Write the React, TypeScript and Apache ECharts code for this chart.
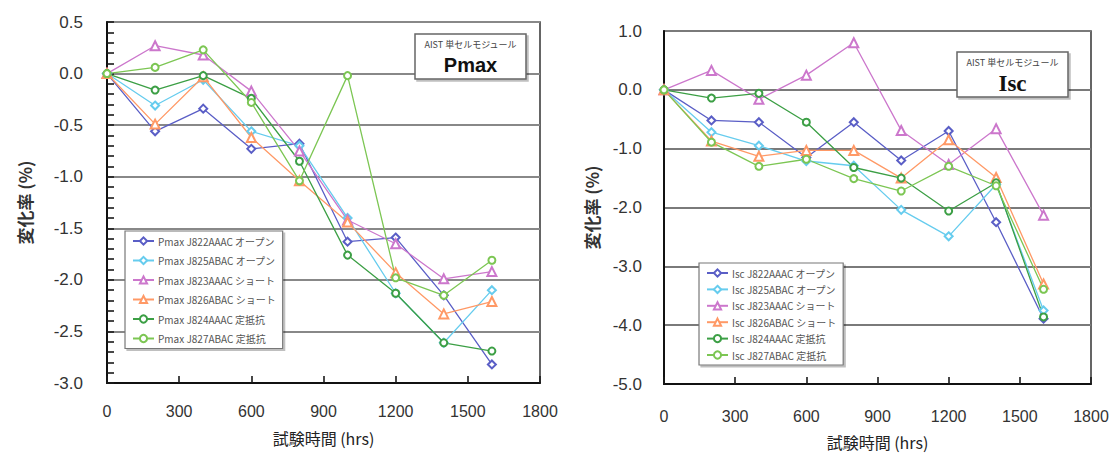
import React, { useEffect, useRef } from "react";
import * as echarts from "echarts";

// Test hours shared by both panels
const hours = [0, 200, 400, 600, 800, 1000, 1200, 1400, 1600];

// Module identifiers and their condition labels
const modules = [
  "J822AAAC オープン",
  "J825ABAC オープン",
  "J823AAAC ショート",
  "J826ABAC ショート",
  "J824AAAC 定抵抗",
  "J827ABAC 定抵抗",
];

// Pmax change rate (%)
const pmaxJ822 = [0, -0.56, -0.34, -0.73, -0.68, -1.63, -1.59, -2.15, -2.82];
const pmaxJ825 = [0, -0.31, -0.06, -0.56, -0.7, -1.4, -2.13, -2.61, -2.1];
const pmaxJ823 = [0, 0.27, 0.18, -0.17, -0.75, -1.42, -1.65, -1.99, -1.92];
const pmaxJ826 = [0, -0.49, -0.03, -0.62, -1.04, -1.44, -1.93, -2.33, -2.21];
const pmaxJ824 = [0, -0.16, -0.02, -0.24, -0.85, -1.76, -2.13, -2.61, -2.69];
const pmaxJ827 = [0, 0.06, 0.23, -0.28, -1.04, -0.02, -1.98, -2.15, -1.81];

// Isc change rate (%)
const iscJ822 = [0, -0.52, -0.55, -1.15, -0.55, -1.2, -0.7, -2.25, -3.89];
const iscJ825 = [0, -0.72, -0.95, -1.21, -1.29, -2.04, -2.49, -1.61, -3.75];
const iscJ823 = [0, 0.33, -0.16, 0.25, 0.8, -0.69, -1.27, -0.66, -2.13];
const iscJ826 = [0, -0.87, -1.13, -1.03, -1.03, -1.5, -0.85, -1.49, -3.3];
const iscJ824 = [0, -0.14, -0.06, -0.55, -1.32, -1.5, -2.06, -1.58, -3.86];
const iscJ827 = [0, -0.89, -1.3, -1.18, -1.51, -1.72, -1.3, -1.63, -3.39];

const pmaxValues = [pmaxJ822, pmaxJ825, pmaxJ823, pmaxJ826, pmaxJ824, pmaxJ827];
const iscValues = [iscJ822, iscJ825, iscJ823, iscJ826, iscJ824, iscJ827];

const colors = ["#5a5ec6", "#66ccee", "#cc77cc", "#ff9966", "#3c9f45", "#7cc653"];
const symbols = [
  "emptyDiamond",
  "emptyDiamond",
  "emptyTriangle",
  "emptyTriangle",
  "emptyCircle",
  "emptyCircle",
];
const symbolSizes = [8, 8, 9, 9, 7, 7];

const xTicks = { min: 0, max: 1800, interval: 300 };

const sansFont = "'Liberation Sans', Arial, sans-serif";
const cjkFont = "'Noto Sans CJK JP', 'Liberation Sans', sans-serif";

const tickStyle = { color: "#1a1a1a", width: 1.6 };

function buildSeries(prefix: string, values: number[][], axisIndex: number) {
  return values.map((vals, i) => ({
    name: `${prefix} ${modules[i]}`,
    type: "line",
    xAxisIndex: axisIndex,
    yAxisIndex: axisIndex,
    data: hours.map((h, k) => [h, vals[k]]),
    symbol: symbols[i],
    symbolSize: symbolSizes[i],
    lineStyle: { color: colors[i], width: 1.3 },
    itemStyle: { color: colors[i], borderWidth: 1.2 },
    z: 3,
  }));
}

function xAxis(gridIndex: number, labelMargin: number, nameGap: number) {
  return {
    type: "value",
    gridIndex,
    ...xTicks,
    axisLine: { show: true, onZero: false, lineStyle: { color: "#111", width: 2 } },
    axisTick: { show: true, inside: true, length: 7, lineStyle: tickStyle },
    axisLabel: {
      margin: labelMargin,
      fontSize: 16,
      color: "#333",
      fontFamily: sansFont,
      formatter: (v: number) => String(v),
    },
    splitLine: { show: false },
    name: "試験時間 (hrs)",
    nameLocation: "middle",
    nameGap,
    nameTextStyle: { fontSize: 16, color: "#222", fontFamily: cjkFont, fontWeight: "normal" },
  };
}

function legend(prefix: string, left: number, top: number, gap: number) {
  return {
    orient: "vertical",
    left,
    top,
    data: modules.map((m) => `${prefix} ${m}`),
    itemWidth: 21,
    itemHeight: 9,
    itemGap: gap,
    padding: [5, 7, 5, 7],
    backgroundColor: "#fff",
    borderColor: "#777",
    borderWidth: 1.2,
    borderRadius: 0,
    shadowColor: "rgba(0,0,0,0.25)",
    shadowOffsetX: 2,
    shadowOffsetY: 2,
    textStyle: { fontSize: 10, color: "#555", fontFamily: cjkFont, lineHeight: 10, padding: [0, 0, 0, -1] },
    selectedMode: false,
  };
}

function labelBox(x: number, y: number, title: string, titleFont: string, titleSize: number) {
  const w = 111;
  const h = 45;
  return [
    {
      type: "rect",
      z: 100,
      shape: { x, y, width: w, height: h },
      style: {
        fill: "#fff",
        stroke: "#666",
        lineWidth: 1.5,
        shadowColor: "rgba(0,0,0,0.25)",
        shadowOffsetX: 2,
        shadowOffsetY: 2,
      },
    },
    {
      type: "text",
      z: 101,
      x: x + w / 2,
      y: y + 10,
      style: {
        text: "AIST 単セルモジュール",
        fontSize: 9,
        fill: "#444",
        fontFamily: cjkFont,
        align: "center",
        verticalAlign: "middle",
      },
    },
    {
      type: "text",
      z: 101,
      x: x + w / 2,
      y: y + 31,
      style: {
        text: title,
        fontSize: titleSize,
        fontWeight: "bold",
        fill: "#111",
        fontFamily: titleFont,
        align: "center",
        verticalAlign: "middle",
      },
    },
  ];
}

export default function App() {
  const ref = useRef<HTMLDivElement>(null);

  useEffect(() => {
    if (!ref.current) return;
    const chart = echarts.init(ref.current, undefined, { renderer: "svg" });
    const option = {
      animation: false,
      backgroundColor: "#fff",
      grid: [
        {
          left: 107,
          top: 22,
          width: 433,
          height: 361,
          show: true,
          borderColor: "#333",
          borderWidth: 1.5,
        },
        {
          left: 664,
          top: 31,
          width: 427,
          height: 355,
          show: true,
          borderColor: "#333",
          borderWidth: 1.5,
        },
      ],
      xAxis: [xAxis(0, 20, 47), xAxis(1, 24, 50)],
      yAxis: [
        {
          type: "value",
          gridIndex: 0,
          min: -3,
          max: 0.5,
          interval: 0.5,
          axisLine: { show: true, onZero: false, lineStyle: { color: "#111", width: 2 } },
          axisTick: { show: true, inside: true, length: 7, lineStyle: tickStyle },
          minorTick: { show: true, splitNumber: 5, length: 7, lineStyle: tickStyle },
          axisLabel: {
            margin: 24,
            fontSize: 17,
            color: "#333",
            fontFamily: sansFont,
            formatter: (v: number) => v.toFixed(1),
          },
          splitLine: { show: true, lineStyle: { color: "#888", width: 2 } },
          name: "変化率 (%)",
          nameLocation: "middle",
          nameGap: 74,
          nameTextStyle: { fontSize: 17, fontWeight: "bold", color: "#333", fontFamily: cjkFont },
        },
        {
          type: "value",
          gridIndex: 1,
          min: -5,
          max: 1,
          interval: 1,
          axisLine: { show: true, onZero: false, lineStyle: { color: "#111", width: 2 } },
          axisTick: { show: false },
          axisLabel: {
            margin: 22,
            fontSize: 17,
            color: "#333",
            fontFamily: sansFont,
            formatter: (v: number) => v.toFixed(1),
          },
          splitLine: { show: true, lineStyle: { color: "#7a7a7a", width: 2 } },
          name: "変化率 (%)",
          nameLocation: "middle",
          nameGap: 64,
          nameTextStyle: { fontSize: 17, fontWeight: "bold", color: "#333", fontFamily: cjkFont },
        },
      ],
      legend: [legend("Pmax", 125, 231, 9.5), legend("Isc", 699, 263, 6.4)],
      series: [...buildSeries("Pmax", pmaxValues, 0), ...buildSeries("Isc", iscValues, 1)],
      graphic: {
        elements: [
          ...labelBox(415, 34, "Pmax", sansFont, 20),
          ...labelBox(957, 52, "Isc", "'Liberation Serif', 'Times New Roman', serif", 23),
        ],
      },
    };
    chart.setOption(option as any);
    return () => chart.dispose();
  }, []);

  return (
    <div
      ref={ref}
      style={{ position: "fixed", left: 0, top: 0, width: 1120, height: 455 }}
    />
  );
}
